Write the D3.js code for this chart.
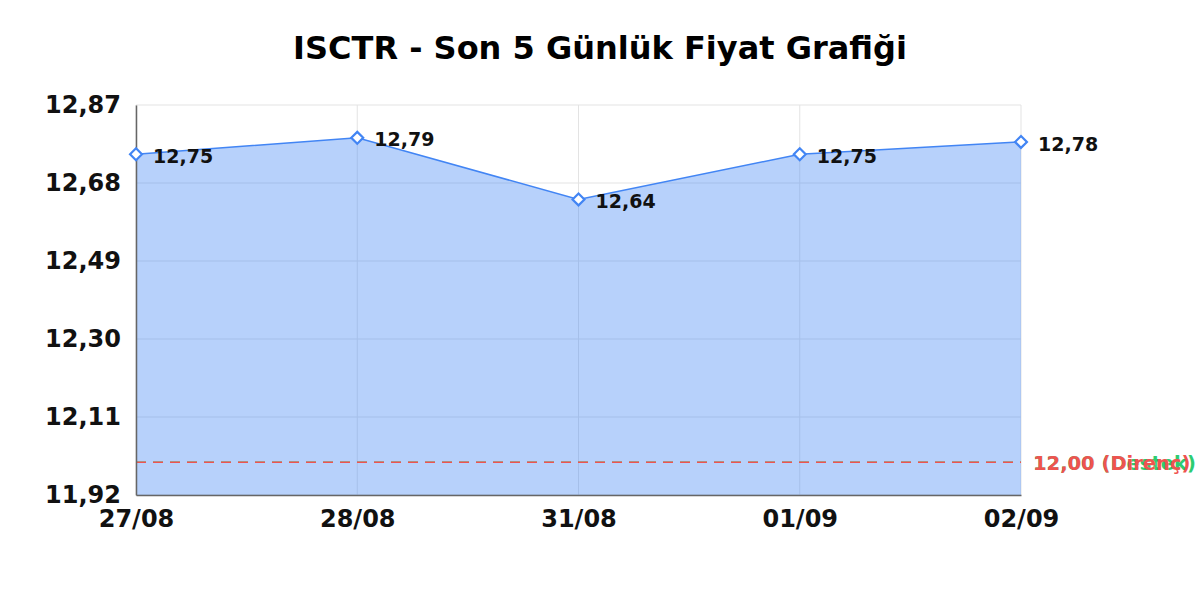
<!DOCTYPE html>
<html>
<head>
<meta charset="utf-8">
<script src="https://cdn.jsdelivr.net/npm/d3@7"></script>
<style>
  body { margin: 0; background: #fff; }
  text { font-family: "DejaVu Sans", sans-serif; }
</style>
</head>
<body>
<script>
// data
let dates = ["27/08", "28/08", "31/08", "01/09", "02/09"];
let prices = [12.75, 12.79, 12.64, 12.75, 12.78];
let yTicks = [11.92, 12.11, 12.30, 12.49, 12.68, 12.87];
let supportLevel = 12.00;
let resistanceLevel = 12.00;
let chartTitle = "ISCTR - Son 5 Günlük Fiyat Grafiği";

let margin = {top: 105, left: 136, bottom: 105, right: 179},
    width = 1200 - margin.left - margin.right,
    height = 600 - margin.top - margin.bottom;

let fmt = function(v) { return v.toFixed(2).replace(".", ","); };

let svgRoot = d3.select("body").append("svg")
  .attr("width", 1200)
  .attr("height", 600);

svgRoot.append("text")
  .attr("x", 600)
  .attr("y", 59)
  .attr("text-anchor", "middle")
  .style("font-size", "32px")
  .style("font-weight", "bold")
  .text(chartTitle);

let svg = svgRoot.append("g")
  .attr("transform", "translate(" + margin.left + "," + margin.top + ")");

let x = d3.scalePoint().domain(dates).range([0, width]).padding(0);
let y = d3.scaleLinear().domain([yTicks[0], yTicks[yTicks.length - 1]]).range([height, 0]);

// grid
svg.append("g").selectAll("line.h")
  .data(yTicks).enter().append("line")
  .attr("x1", 0).attr("x2", width)
  .attr("y1", d => y(d)).attr("y2", d => y(d))
  .attr("stroke", "#e3e3e3").attr("stroke-width", 1);
svg.append("g").selectAll("line.v")
  .data(dates).enter().append("line")
  .attr("x1", d => x(d)).attr("x2", d => x(d))
  .attr("y1", 0).attr("y2", height)
  .attr("stroke", "#e3e3e3").attr("stroke-width", 1);

// area + line
let area = d3.area()
  .x((d, i) => x(dates[i]))
  .y0(height)
  .y1(d => y(d));
svg.append("path")
  .datum(prices)
  .attr("d", area)
  .attr("fill", "#4285f4")
  .attr("fill-opacity", 0.38);

let line = d3.line()
  .x((d, i) => x(dates[i]))
  .y(d => y(d));
svg.append("path")
  .datum(prices)
  .attr("d", line)
  .attr("fill", "none")
  .attr("stroke", "#4285f4")
  .attr("stroke-width", 1.5);

// support / resistance (both sit at 12,00 so labels overlap like the original)
let levels = [
  {v: supportLevel, label: "Destek", color: "#2ecc71"},
  {v: resistanceLevel, label: "Direnç", color: "#ef5350"}
];
levels.forEach(function(l) {
  svg.append("line")
    .attr("x1", 0).attr("x2", width)
    .attr("y1", y(l.v)).attr("y2", y(l.v))
    .attr("stroke", l.color)
    .attr("stroke-width", 1.5)
    .attr("stroke-dasharray", "10,7");
  svg.append("text")
    .attr("x", width + 12)
    .attr("y", y(l.v) + 1)
    .attr("dy", "0.35em")
    .attr("fill", l.color)
    .style("font-size", "19.5px")
    .style("font-weight", "bold")
    .text(fmt(l.v) + " (" + l.label + ")");
});

// axes
let xAxis = svg.append("g")
  .attr("transform", "translate(0," + height + ")")
  .call(d3.axisBottom(x).tickSize(0).tickPadding(14));
let yAxis = svg.append("g")
  .call(d3.axisLeft(y).tickValues(yTicks).tickFormat(fmt).tickSize(0).tickPadding(15));
[xAxis, yAxis].forEach(function(a) {
  a.select(".domain").attr("stroke", "#666").attr("stroke-width", 1.5);
  a.selectAll("text")
    .attr("fill", "#111")
    .style("font-family", "DejaVu Sans")
    .style("font-size", "24px")
    .style("font-weight", "bold");
});
xAxis.selectAll("text").attr("dy", "0.75em");

// markers + labels
svg.append("g").selectAll("path.m")
  .data(prices).enter().append("path")
  .attr("transform", (d, i) => "translate(" + x(dates[i]) + "," + y(d) + ")")
  .attr("d", d3.symbol().type(d3.symbolDiamond2).size(90))
  .attr("fill", "#fff")
  .attr("stroke", "#4285f4")
  .attr("stroke-width", 2.2);

svg.append("g").selectAll("text.lbl")
  .data(prices).enter().append("text")
  .attr("x", (d, i) => x(dates[i]) + 17)
  .attr("y", d => y(d) + 2)
  .attr("dy", "0.35em")
  .attr("fill", "#111")
  .style("font-size", "19px")
  .style("font-weight", "bold")
  .text(d => fmt(d));
</script>
</body>
</html>
